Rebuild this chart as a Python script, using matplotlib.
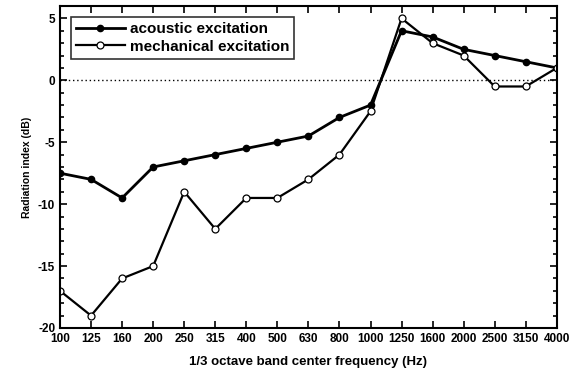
import numpy as np
import matplotlib
matplotlib.use("Agg")
import matplotlib.pyplot as plt
from matplotlib.ticker import MultipleLocator

plt.rcParams['font.family'] = ['Liberation Sans', 'DejaVu Sans']
plt.rcParams['font.weight'] = 'bold'
plt.rcParams['axes.unicode_minus'] = False

freqs = ["100", "125", "160", "200", "250", "315", "400", "500", "630",
         "800", "1000", "1250", "1600", "2000", "2500", "3150", "4000"]
acoustic = [-7.5, -8, -9.5, -7, -6.5, -6, -5.5, -5, -4.5, -3, -2,
            4, 3.5, 2.5, 2, 1.5, 1]
mechanical = [-17, -19, -16, -15, -9, -12, -9.5, -9.5, -8, -6, -2.5,
              5, 3, 2, -0.5, -0.5, 1]

x = np.arange(len(freqs))

fig = plt.figure(figsize=(5.77, 3.74), dpi=100)
ax = fig.add_axes([0.104, 0.123, 0.861, 0.861])

ax.axhline(0, color='black', lw=1, ls=(0, (1, 2)))
ax.plot(x, acoustic, '-o', color='black', lw=2, ms=4.5,
        mfc='black', label='acoustic excitation')
ax.plot(x, mechanical, '-o', color='black', lw=1.6, ms=5,
        mfc='white', mew=0.9, label='mechanical excitation')

ax.set_xlim(0, len(freqs) - 1)
ax.set_ylim(-20, 6)
ax.set_xticks(x)
ax.set_xticklabels(freqs, fontsize=8.5, fontweight='bold')
ax.yaxis.set_major_locator(MultipleLocator(5))
ax.yaxis.set_minor_locator(MultipleLocator(1))
ax.tick_params(axis='y', labelsize=8.5)
ax.tick_params(which='both', direction='in', top=True, right=True, width=1.2)
ax.tick_params(which='major', length=5)
ax.tick_params(which='minor', length=3)
for s in ax.spines.values():
    s.set_linewidth(1.5)

ax.set_xlabel('1/3 octave band center frequency (Hz)', fontsize=9.5,
              fontweight='bold', labelpad=8)
ax.set_ylabel('Radiation index (dB)', fontsize=7.5, fontweight='bold')

leg = ax.legend(loc='upper left', fontsize=11, frameon=True, fancybox=False,
                edgecolor='black', borderaxespad=0.7, handlelength=3.2,
                borderpad=0.35, labelspacing=0.25, handletextpad=0.3)
leg.get_frame().set_linewidth(1.2)
for t in leg.get_texts():
    t.set_fontweight('bold')

fig.savefig('out.png', dpi=100)
